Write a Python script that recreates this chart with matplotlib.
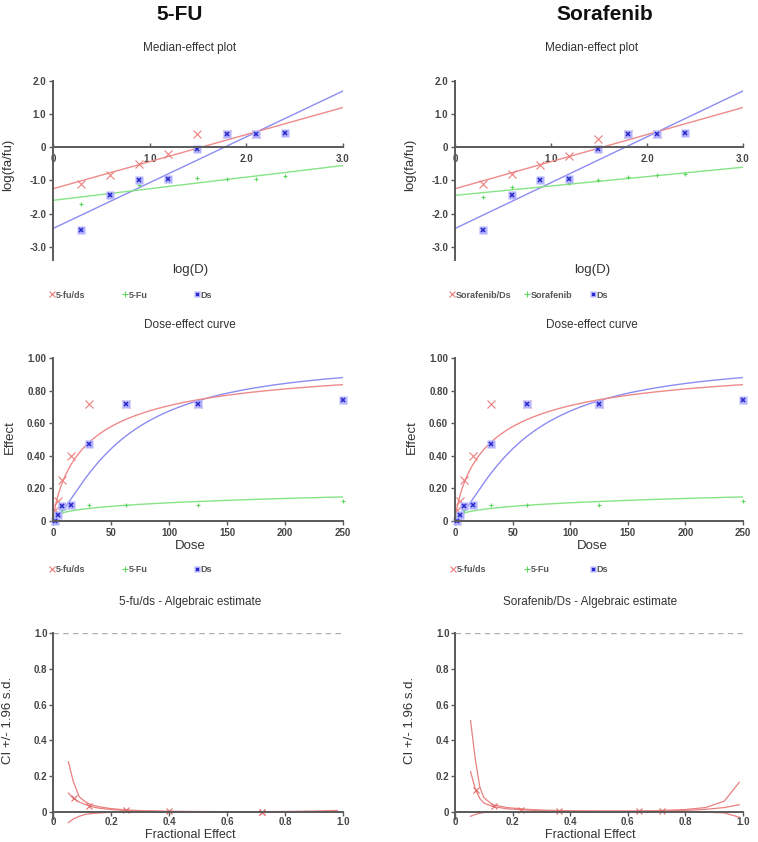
import numpy as np
import matplotlib.pyplot as plt
from matplotlib.lines import Line2D

plt.rcParams['font.family'] = ['Liberation Sans', 'DejaVu Sans']

# ---- data ----
log_d = [0.29, 0.59, 0.89, 1.19, 1.49, 1.80, 2.10, 2.40]
doses = [1.95, 3.91, 7.81, 15.63, 31.25, 62.5, 125, 250]

# median-effect points, log(fa/fu)
fuds_me = [-1.10, -0.85, -0.50, -0.20, 0.40, 0.40, 0.40]
fu_me = [-1.72, -1.45, -1.15, -0.95, -0.92, -0.95, -0.95, -0.87]
sords_me = [-1.10, -0.80, -0.53, -0.25, 0.25, 0.40, 0.40]
sor_me = [-1.50, -1.20, -1.05, -1.08, -1.00, -0.90, -0.85, -0.80]
ds_me = [-2.50, -1.43, -0.98, -0.95, -0.05, 0.40, 0.40, 0.42]

# fitted median-effect lines: slope m, intercept at log(D)=0
fuds_fit = (0.817, -1.25)
fu_fit = (0.350, -1.60)
sords_fit = (0.817, -1.25)
sor_fit = (0.283, -1.45)
ds_fit = (1.383, -2.45)

# dose-effect points (same panel in both columns)
fuds_eff = [0.07, 0.12, 0.25, 0.40, 0.72, 0.72, 0.72]
fu_eff = [0.02, 0.03, 0.07, 0.10, 0.10, 0.10, 0.10, 0.12]
ds_eff = [0.003, 0.035, 0.095, 0.10, 0.47, 0.72, 0.72, 0.74]

# CI curves (algebraic estimate, +/- 1.96 s.d.)
fa_left = [0.053, 0.07, 0.09, 0.11, 0.13, 0.16, 0.2, 0.25, 0.3, 0.4, 0.5, 0.6, 0.7, 0.8, 0.9, 0.98]
ci_left = [0.105, 0.075, 0.055, 0.042, 0.03, 0.02, 0.013, 0.008, 0.005, 0.002, 0.001, 0.001, 0.001, 0.001, 0.002, 0.004]
ci_left_hi = [0.28, 0.17, 0.085, 0.058, 0.04, 0.028, 0.018, 0.011, 0.007, 0.003, 0.002, 0.001, 0.001, 0.002, 0.004, 0.008]
ci_left_lo = [-0.06, -0.04, -0.025, -0.015, -0.01, -0.006, -0.003, -0.002, -0.001, 0, 0, 0, 0, 0, 0, 0]
ci_left_pts_fa = [0.073, 0.124, 0.25, 0.40, 0.72, 0.72]
ci_left_pts = [0.075, 0.035, 0.008, 0.002, 0.001, 0.001]

fa_right = [0.054, 0.07, 0.086, 0.10, 0.13, 0.18, 0.25, 0.3, 0.4, 0.5, 0.6, 0.7, 0.8, 0.87, 0.935, 0.987]
ci_right = [0.225, 0.13, 0.075, 0.05, 0.03, 0.017, 0.01, 0.007, 0.004, 0.003, 0.003, 0.004, 0.008, 0.014, 0.024, 0.04]
ci_right_hi = [0.51, 0.30, 0.14, 0.08, 0.04, 0.024, 0.014, 0.01, 0.006, 0.005, 0.005, 0.007, 0.013, 0.024, 0.06, 0.165]
ci_right_lo = [-0.025, -0.015, -0.008, -0.004, -0.001, 0, 0, 0, 0, 0, 0, 0, 0, -0.002, -0.006, -0.03]
ci_right_pts_fa = [0.074, 0.137, 0.228, 0.36, 0.64, 0.72]
ci_right_pts = [0.12, 0.03, 0.011, 0.004, 0.003, 0.005]

RED = '#ee8a8a'
GREEN = '#86e486'
BLUE = '#8c8cf2'
AXC = '#5a5a5a'
TXT = '#444444'

W, H = 758, 842
fig = plt.figure(figsize=(W / 100, H / 100), dpi=100)


def px_axes(x0, x1, ytop, ybot):
    return fig.add_axes([x0 / W, 1 - ybot / H, (x1 - x0) / W, (ybot - ytop) / H])


def style(ax):
    for s in ['top', 'right']:
        ax.spines[s].set_visible(False)
    ax.spines['left'].set_color(AXC)
    ax.spines['bottom'].set_color(AXC)
    ax.spines['left'].set_linewidth(1.4)
    ax.spines['bottom'].set_linewidth(1.4)
    ax.spines['bottom'].set_position(('data', 0))
    ax.tick_params(colors=AXC, labelcolor=TXT, labelsize=7, length=3, width=1)
    for lab in ax.get_xticklabels() + ax.get_yticklabels():
        lab.set_fontweight('bold')


def ftext(x, y, s, **kw):
    fig.text(x / W, 1 - y / H, s, ha='center', va='center', **kw)


def blue_pts(ax, x, y):
    ax.plot(x, y, 's', ms=5.5, mfc='#b2b2ff', mec='none', clip_on=False)
    ax.plot(x, y, 'x', ms=2.3, mew=1.1, color='#2828c8', clip_on=False)


h_red = Line2D([], [], ls='none', marker='x', ms=5, mew=0.8, color='#ec7f7f')
h_green = Line2D([], [], ls='none', marker='+', ms=4, mew=0.8, color='#5fd65f')
h_blue = (Line2D([], [], ls='none', marker='s', ms=4.5, mfc='#b2b2ff', mec='none'),
          Line2D([], [], ls='none', marker='x', ms=2, mew=1, color='#2828c8'))


def legend_entry(x, y, handle, label):
    fig.legend([handle], [label], loc='center left', bbox_to_anchor=(x / W, 1 - y / H),
               frameon=False, handlelength=0.6, handletextpad=0.15, borderpad=0,
               borderaxespad=0, prop={'size': 6.5, 'weight': 'bold'}, labelcolor='#555555')


ftext(180, 14, '5-FU', fontsize=15, fontweight='bold', color='#111111')
ftext(605, 14, 'Sorafenib', fontsize=15, fontweight='bold', color='#111111')

# ---- median-effect plots ----
med = [
    (53, 343, 190, fuds_me, fu_me, fuds_fit, fu_fit, ('5-fu/ds', '5-Fu'), (52, 125, 197)),
    (455, 743, 592, sords_me, sor_me, sords_fit, sor_fit, ('Sorafenib/Ds', 'Sorafenib'), (452, 527, 593)),
]
for x0, x1, xc, combo, single, cfit, sfit, names, lx in med:
    ax = px_axes(x0, x1, 81, 260)
    xs = np.array([0, 3.0])
    ax.plot(xs, ds_fit[0] * xs + ds_fit[1], color=BLUE, lw=1)
    ax.plot(xs, cfit[0] * xs + cfit[1], color=RED, lw=1)
    ax.plot(xs, sfit[0] * xs + sfit[1], color=GREEN, lw=1)
    ax.plot(log_d[:len(combo)], combo, 'x', ms=6, mew=0.8, color='#ec7f7f')
    ax.plot(log_d, single, '+', ms=3.5, mew=0.8, color='#5fd65f')
    blue_pts(ax, log_d, ds_me)
    ax.set_xlim(0, 3.0)
    ax.set_ylim(-3.4, 2.0)
    ax.set_xticks([0, 1, 2, 3])
    ax.set_xticklabels(['0', '1.0', '2.0', '3.0'])
    ax.set_yticks([-3, -2, -1, 0, 1, 2])
    ax.set_yticklabels(['-3.0', '-2.0', '-1.0', '0', '1.0', '2.0'])
    style(ax)
    ax.tick_params(axis='x', direction='in', pad=5)
    ax.tick_params(axis='y', pad=2)
    ftext(xc, 48, 'Median-effect plot', fontsize=8.5, color='#333333')
    ftext(x0 - 45, 165, 'log(fa/fu)', fontsize=9.5, rotation=90, color='#333333')
    ftext(xc, 270, 'log(D)', fontsize=9.5, color='#333333')
    legend_entry(lx[0] - 3, 295, h_red, names[0])
    legend_entry(lx[1] - 3, 295, h_green, names[1])
    legend_entry(lx[2] - 3, 295, h_blue, 'Ds')

# ---- dose-effect curves ----
dgrid = np.concatenate([np.geomspace(0.01, 5, 60), np.linspace(5, 250, 200)])
for x0, x1, xc, lx in [(53, 343, 190, (52, 125, 197)), (455, 743, 592, (453, 527, 593))]:
    ax = px_axes(x0, x1, 358, 521)
    for fit, col in [(ds_fit, BLUE), (fuds_fit, RED), (fu_fit, GREEN)]:
        fa = 1 / (1 + 10 ** (-(fit[0] * np.log10(dgrid) + fit[1])))
        ax.plot(dgrid, fa, color=col, lw=1)
    ax.plot(doses[:len(fuds_eff)], fuds_eff, 'x', ms=6, mew=0.8, color='#ec7f7f')
    ax.plot(doses, fu_eff, '+', ms=3.5, mew=0.8, color='#5fd65f', clip_on=False)
    blue_pts(ax, doses, ds_eff)
    ax.set_xlim(0, 250)
    ax.set_ylim(0, 1.0)
    ax.set_xticks([0, 50, 100, 150, 200, 250])
    ax.set_yticks([0, 0.2, 0.4, 0.6, 0.8, 1.0])
    ax.set_yticklabels(['0', '0.20', '0.40', '0.60', '0.80', '1.00'])
    style(ax)
    ax.tick_params(pad=2)
    ftext(xc, 325, 'Dose-effect curve', fontsize=8.5, color='#333333')
    ftext(x0 - 43, 437, 'Effect', fontsize=9.5, rotation=90, color='#333333')
    ftext(xc, 546, 'Dose', fontsize=9.5, color='#333333')
    legend_entry(lx[0] - 3, 570, h_red, '5-fu/ds')
    legend_entry(lx[1] - 3, 570, h_green, '5-Fu')
    legend_entry(lx[2] - 3, 570, h_blue, 'Ds')

# ---- CI plots ----
ci_sets = [
    (53, 343, 190, '5-fu/ds - Algebraic estimate', fa_left, ci_left, ci_left_hi, ci_left_lo, ci_left_pts_fa, ci_left_pts),
    (455, 743, 590, 'Sorafenib/Ds - Algebraic estimate', fa_right, ci_right, ci_right_hi, ci_right_lo, ci_right_pts_fa, ci_right_pts),
]
for x0, x1, xc, title, fa, ci, hi, lo, pfa, pci in ci_sets:
    ax = px_axes(x0, x1, 633, 819)
    ax.axhline(1.0, color='#b0b0b0', lw=1, ls=(0, (4, 3)))
    ax.plot(fa, hi, color='#e98080', lw=0.9)
    ax.plot(fa, ci, color='#e98080', lw=0.9)
    ax.plot(fa, lo, color='#e98080', lw=0.9, clip_on=False)
    ax.plot(pfa, pci, 'x', ms=4, mew=0.8, color='#e06a6a')
    ax.set_xlim(0, 1.0)
    ax.set_ylim(-0.04, 1.0)
    ax.set_xticks([0, 0.2, 0.4, 0.6, 0.8, 1.0])
    ax.set_xticklabels(['0', '0.2', '0.4', '0.6', '0.8', '1.0'])
    ax.set_yticks([0, 0.2, 0.4, 0.6, 0.8, 1.0])
    ax.set_yticklabels(['0', '0.2', '0.4', '0.6', '0.8', '1.0'])
    style(ax)
    ax.tick_params(pad=1)
    ftext(xc, 602, title, fontsize=8.5, color='#333333')
    ftext(x0 - 45, 720, 'CI +/- 1.96 s.d.', fontsize=9.5, rotation=90, color='#333333')
    ftext(xc, 835.5, 'Fractional Effect', fontsize=9, color='#333333')

fig.savefig('out.png', dpi=100)
